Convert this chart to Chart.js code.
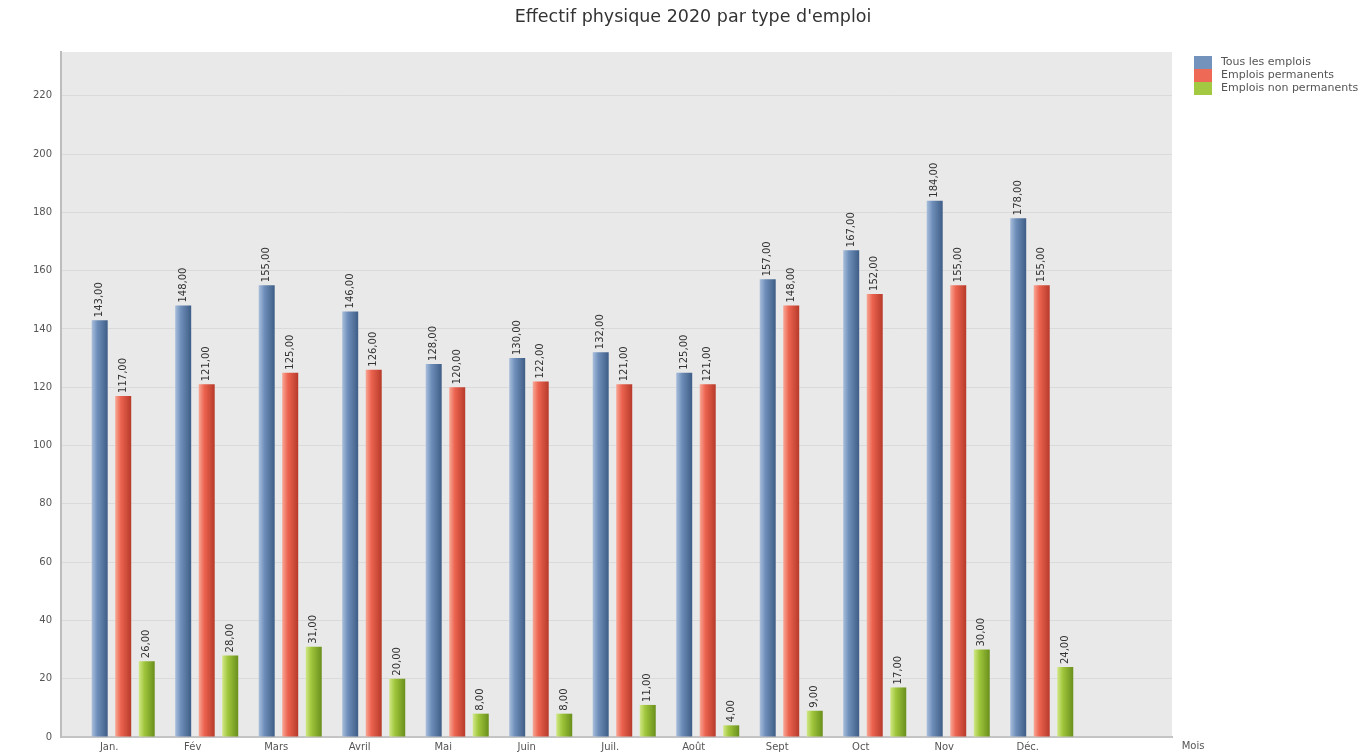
<!DOCTYPE html>
<html>
<head>
<meta charset="utf-8">
<script src="https://cdn.jsdelivr.net/npm/chart.js"></script>
<style>
html, body { margin: 0; padding: 0; background: #fff; }
#cadre { width: 1362px; height: 755px; }
</style>
</head>
<body>
<div id="cadre"><canvas id="chartEffectif"></canvas></div>
<script>
const mois = ['Jan.', 'Fév', 'Mars', 'Avril', 'Mai', 'Juin', 'Juil.', 'Août', 'Sept', 'Oct', 'Nov', 'Déc.'];
const tousEmplois = [143, 148, 155, 146, 128, 130, 132, 125, 157, 167, 184, 178];
const emploisPermanents = [117, 121, 125, 126, 120, 122, 121, 121, 148, 152, 155, 155];
const emploisNonPermanents = [26, 28, 31, 20, 8, 8, 11, 4, 9, 17, 30, 24];
const ticksY = [0, 20, 40, 60, 80, 100, 120, 140, 160, 180, 200, 220];

const police = '"DejaVu Sans", sans-serif';

// degrade horizontal sur chaque barre (effet cylindre)
function degrade(clair, moyen, fonce) {
    return function (ctx) {
        const el = ctx.element;
        if (!el || !isFinite(el.x) || !isFinite(el.width)) return moyen;
        const g = ctx.chart.ctx.createLinearGradient(el.x - el.width / 2, 0, el.x + el.width / 2, 0);
        g.addColorStop(0, clair);
        g.addColorStop(0.35, moyen);
        g.addColorStop(1, fonce);
        return g;
    };
}

function points(valeurs) {
    return valeurs.map((v, i) => ({ x: i, y: v }));
}

const fond = {
    id: 'fond',
    beforeDraw(chart) {
        const a = chart.chartArea;
        const c = chart.ctx;
        c.save();
        c.fillStyle = '#e9e9e9';
        c.fillRect(a.left, a.top, a.right - a.left, a.bottom - a.top);
        c.restore();
    }
};

const etiquettes = {
    id: 'etiquettes',
    afterDatasetsDraw(chart) {
        const c = chart.ctx;
        c.save();
        c.font = '10px ' + police;
        c.fillStyle = '#333';
        c.textAlign = 'left';
        c.textBaseline = 'middle';
        chart.data.datasets.forEach((ds, i) => {
            chart.getDatasetMeta(i).data.forEach((bar, j) => {
                const txt = ds.data[j].y.toFixed(2).replace('.', ',');
                c.save();
                c.translate(bar.x, bar.y - 3);
                c.rotate(-Math.PI / 2);
                c.fillText(txt, 0, 0);
                c.restore();
            });
        });
        c.restore();
    }
};

const legendeEtTitreAxe = {
    id: 'legendeEtTitreAxe',
    afterDraw(chart) {
        const c = chart.ctx;
        const a = chart.chartArea;
        c.save();
        // legende
        c.font = '11px ' + police;
        c.textAlign = 'left';
        c.textBaseline = 'middle';
        chart.data.datasets.forEach((ds, i) => {
            const y = 56 + i * 13;
            c.fillStyle = ds.couleurLegende;
            c.fillRect(1194, y, 18, 13);
            c.fillStyle = '#555';
            c.fillText(ds.label, 1221, y + 6.5);
        });
        // titre de l'axe x
        c.font = '10px ' + police;
        c.fillStyle = '#555';
        c.textAlign = 'center';
        c.textBaseline = 'top';
        c.fillText('Mois', a.right + 21, a.bottom + 4);
        c.restore();
    }
};

const config = {
    type: 'bar',
    data: {
        datasets: [
            {
                label: 'Tous les emplois',
                data: points(tousEmplois),
                backgroundColor: degrade('#a9bfdc', '#6f8fba', '#3e5d86'),
                couleurLegende: '#7393bd'
            },
            {
                label: 'Emplois permanents',
                data: points(emploisPermanents),
                backgroundColor: degrade('#f8a796', '#ec6450', '#b73a2a'),
                couleurLegende: '#ee6a56'
            },
            {
                label: 'Emplois non permanents',
                data: points(emploisNonPermanents),
                backgroundColor: degrade('#d2e887', '#a0c63c', '#698f1c'),
                couleurLegende: '#a3c842'
            }
        ]
    },
    options: {
        responsive: true,
        maintainAspectRatio: false,
        animation: false,
        categoryPercentage: 0.845,
        barPercentage: 0.68,
        layout: { padding: { left: 24, right: 0, top: 0, bottom: 0 } },
        plugins: {
            legend: { display: false },
            tooltip: { enabled: false },
            title: {
                display: true,
                text: "Effectif physique 2020 par type d'emploi",
                color: '#333',
                font: { family: police, size: 17.5, weight: 'normal' },
                padding: { top: 7, bottom: 24 }
            }
        },
        scales: {
            x: {
                type: 'linear',
                offset: false,
                min: -0.745,
                max: 12.56,
                grid: { display: false, offset: false, drawTicks: false },
                border: { display: true, color: '#c4c4c4', width: 2 },
                afterBuildTicks(scale) {
                    scale.ticks = mois.map((m, i) => ({ value: i }));
                },
                afterFit(scale) {
                    scale.height = 18;
                },
                ticks: {
                    autoSkip: false,
                    maxRotation: 0,
                    padding: 4,
                    labelOffset: -14,
                    color: '#555',
                    font: { family: police, size: 10 },
                    callback: (v) => mois[v]
                }
            },
            y: {
                min: 0,
                max: 235,
                grid: { color: '#dadada', drawTicks: false },
                border: { display: true, color: '#bdbdbd', width: 2 },
                afterBuildTicks(scale) {
                    scale.ticks = ticksY.map(v => ({ value: v }));
                },
                afterFit(scale) {
                    scale.width = 37;
                },
                ticks: {
                    padding: 9,
                    color: '#555',
                    font: { family: police, size: 10 }
                }
            },
            // axe vide a droite : reserve la place de la legende
            marge: {
                type: 'linear',
                position: 'right',
                grid: { display: false },
                border: { display: false },
                ticks: { display: false },
                afterFit(scale) {
                    scale.width = 190;
                }
            }
        }
    },
    plugins: [fond, etiquettes, legendeEtTitreAxe]
};

const myChart = new Chart('chartEffectif', config);
myChart.update();
</script>
</body>
</html>
